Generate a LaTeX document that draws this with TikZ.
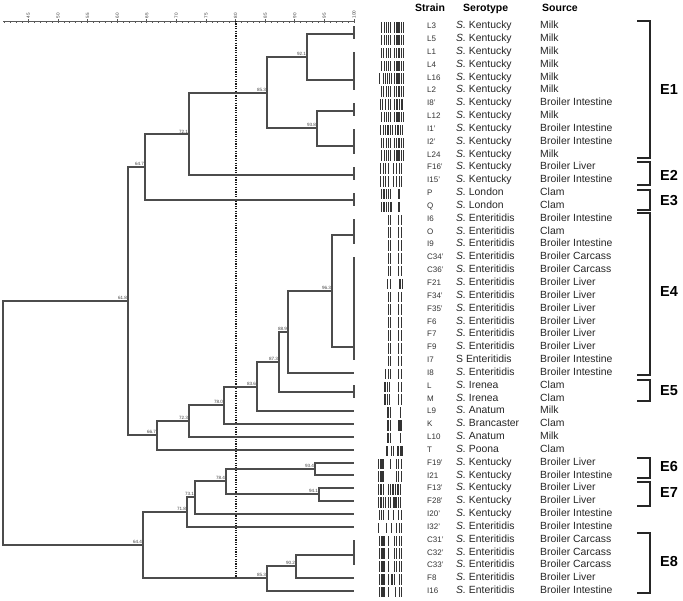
\documentclass[tikz,border=0pt]{standalone}
\usepackage{fontspec}
\setmainfont{Liberation Sans}
\newcommand{\sal}{\textit{S.}}
\newcommand{\lane}[2]{\edef\lanelist{#2}\foreach \bx/\bw in \lanelist {\fill[band] (378+\bx, 9.16+#1*12.84) rectangle ++(\bw,10.5);}}
\def\pkA{3/1.3,5.5/1.3,8/1.3,10/1,12/1.4,16/1.3,18.2/1.3,20.3/1.3,22.5/1.3,24.6/1.3}
\def\pkB{2.5/1.4,5/1.3,7.5/1.3,9.8/1.3,12/1.3,15.5/1.3,17.8/1.4,20.3/1.3,22.6/1.3,24.6/1.3}
\def\pEn{9.5/1.2,12/1.2,20/1.2,23/1.3}
\def\pEc{1/1.4,3.2/1.4,5.4/1.4,10/1.3,15.5/1.3,17.8/1.3,20.5/1.3,23/1.3}

\begin{document}
\begin{tikzpicture}[x=1pt,y=-1pt,
    branch/.style={draw=black!70, line width=1.7pt},
    axisln/.style={draw=black!65, line width=0.7pt},
    cutoff/.style={draw=black!90, line width=1.7pt, dash pattern=on 1.2pt off 1.2pt},
    band/.style={fill=black!80},
    sim/.style={font=\fontsize{4.6}{5}\selectfont, text=black!75, inner sep=0.8pt, anchor=south east},
    scl/.style={font=\fontsize{4.6}{5}\selectfont, text=black!75, rotate=90, anchor=west, inner sep=0.5pt},
    hdr/.style={font=\bfseries\fontsize{10.5}{12}\selectfont, anchor=base west, inner sep=0pt},
    strain/.style={font=\fontsize{8}{9}\selectfont, text=black!80, anchor=base west, inner sep=0pt},
    serot/.style={font=\fontsize{10.4}{12}\selectfont, text=black!85, anchor=base west, inner sep=0pt},
    src/.style={font=\fontsize{10.4}{12}\selectfont, text=black!85, anchor=base west, inner sep=0pt},
    brk/.style={draw=black!85, line width=1.6pt},
    grp/.style={font=\bfseries\fontsize{14.5}{16}\selectfont, anchor=west, inner sep=0pt}
]
    \useasboundingbox (0,0) rectangle (683,600);

    % similarity scale
    \draw[axisln] (3,21) -- (354,21);
    \foreach \s in {41,...,100}
        \draw[axisln] (\s*5.92-238,21) -- ++(0,2);
    \foreach \s in {45,50,...,100} {
        \draw[axisln] (\s*5.92-238,21) -- ++(0,-2);
        \node[scl] (t\s) at (\s*5.92-238,19) {\s};
    }
    \draw[cutoff] (236,21) -- (236,580);

    % leaves and groups of identical profiles
    \coordinate (g1) at (354,34);
    \coordinate (g2) at (354,80);
    \coordinate (g3) at (354,111);
    \coordinate (g4) at (354,146);
    \coordinate (g5) at (354,175);
    \coordinate (g6) at (354,200);
    \coordinate (g7) at (354,235);
    \coordinate (g8) at (354,347);
    \coordinate (lI8) at (354,373);
    \coordinate (g9) at (354,392);
    \coordinate (lL9) at (354,411);
    \coordinate (lK) at (354,424);
    \coordinate (lL10) at (354,437);
    \coordinate (lT) at (354,450);
    \coordinate (lF19) at (354,463);
    \coordinate (lI21) at (354,475);
    \coordinate (lF13) at (354,488);
    \coordinate (lF28) at (354,501);
    \coordinate (lI20) at (354,514);
    \coordinate (lI32) at (354,527);
    \coordinate (g10) at (354,555);
    \coordinate (lF8) at (354,578);
    \coordinate (lI16) at (354,591);
    \foreach \ya/\yb in {26/39, 52/90, 103/116, 129/154, 167/180, 193/206,
                         219/244, 257/360, 385/398, 540/565}
        \draw[branch] (354,\ya) -- (354,\yb);

    % internal nodes
    \coordinate (nA) at (307,57);
    \coordinate (nC) at (317,128);
    \coordinate (nB) at (267,93);
    \coordinate (nD) at (189,134);
    \coordinate (nE) at (145,167);
    \coordinate (nH) at (332,291);
    \coordinate (nI) at (288,332);
    \coordinate (nJ) at (279,362);
    \coordinate (nK) at (257,387);
    \coordinate (nL) at (224,405);
    \coordinate (nM) at (189,421);
    \coordinate (nN) at (157,435);
    \coordinate (nF) at (128,301);
    \coordinate (nQ) at (315,469);
    \coordinate (nR) at (319,494);
    \coordinate (nP) at (226,481);
    \coordinate (nO) at (195,497);
    \coordinate (nS) at (187,512);
    \coordinate (nT) at (296,566);
    \coordinate (nU) at (267,578);
    \coordinate (nV) at (143,545);
    \coordinate (root) at (3,423);

    \foreach \p/\c in {nA/g1, nA/g2, nC/g3, nC/g4, nB/nA, nB/nC, nD/nB, nD/g5, nE/nD, nE/g6,
                       nH/g7, nH/g8, nI/nH, nI/lI8, nJ/nI, nJ/g9, nK/nJ, nK/lL9, nL/nK, nL/lK,
                       nM/nL, nM/lL10, nN/nM, nN/lT, nF/nE, nF/nN,
                       nQ/lF19, nQ/lI21, nR/lF13, nR/lF28, nP/nQ, nP/nR, nO/nP, nO/lI20,
                       nS/nO, nS/lI32, nT/g10, nT/lF8, nU/nT, nU/lI16, nV/nS, nV/nU,
                       root/nF, root/nV}
        \draw[branch] (\p) |- (\c);

    \foreach \n/\v in {nA/92.1, nC/93.8, nB/85.3, nD/72.1, nE/64.7, nH/96.3, nI/88.9, nJ/87.3,
                       nK/83.6, nL/78.0, nM/72.3, nN/66.7, nF/61.8, nQ/93.4, nR/94.1, nP/78.4,
                       nO/73.1, nS/71.8, nT/90.2, nU/85.3, nV/64.4}
        \node[sim] (v\n) at (\n) {\v};

    % gel lanes
    \lane{1}{\pkA}
    \lane{2}{\pkA}
    \lane{3}{\pkB}
    \lane{4}{\pkA}
    \lane{5}{1/1.4,4.5/1.3,6.5/1,8.6/1.3,10.8/1.3,13/1,16/1.3,18.2/1.3,20.3/1.3,22.5/1.3,24.6/1.3}
    \lane{6}{\pkB}
    \lane{7}{1.5/1.4,4/1.3,7/1.3,9.5/1.3,12/1.3,16/1.3,18.2/1.3,20.5/1.8,23/1.8}
    \lane{8}{\pkA}
    \lane{9}{1.5/1.4,4.5/1.3,7/1.3,9.3/1.3,11.5/1.3,14/1.3,17/1.3,19.3/1.3,21.6/1.3,24/1.3}
    \lane{10}{\pkB}
    \lane{11}{\pkA}
    \lane{12}{2/1.4,4.5/1.4,7/1.4,9.5/1.4,15/1.4,17.5/1.4,20.5/1.4,22.5/1.6}
    \lane{13}{2/1.4,4.5/1.4,7/1.4,9.5/1.4,15/1.4,17.5/1.4,20.5/1.4,22.5/1.6}
    \lane{14}{3/1.4,5.3/1.4,7.6/1.4,10/1.4,12/1.2,20/1.5}
    \lane{15}{3/1.3,5.3/1.3,7.5/1.3,9.8/1.3,12.3/1.4,19.8/2}
    \foreach \r in {16,...,20,22,23,...,27} {
        \lane{\r}{\pEn}
    }
    \lane{21}{8.8/1.3,11.5/1.2,21/1.6,23.5/1.1}
    \lane{28}{7/1.3,9.5/1.2,12/1.2,20/1.2,23/1.3}
    \lane{29}{6/1.5,8.5/1.5,11/1.2,20/1.2,23/1.3}
    \lane{30}{6/1.5,8.5/1.5,11/1.2,20/1.2,23/1.3}
    \lane{31}{9.3/1.2,11.5/1.2,21.5/1.3}
    \lane{32}{9.3/1.2,11.5/1.2,19.5/4}
    \lane{33}{9.3/1.2,11.5/1.2,21.5/1.3}
    \lane{34}{7.5/2,13/1.2,15/1.2,19/1.6,21.5/3}
    \lane{35}{0/1.4,2.2/1.4,4.4/1.4,11.5/1.2,17.5/1.4,20/1.4,22.5/1.4}
    \lane{36}{0/1.4,2.2/1.4,4.4/1.4,17.5/1.4,20/1.4,22.5/1.4}
    \lane{37}{0/1.3,2.3/1.3,4.6/1.3,9.5/1.3,12/1.3,14.3/1.3,17/1.3,19.3/1.3,21.6/1.3}
    \lane{38}{0/1.3,2.3/1.3,4.6/1.3,7/1.3,9.5/1.3,12/1.3,15/1.5,17.3/1.3,19.6/1.3,22/1.3}
    \lane{39}{1/1.3,3/1.3,5/1.3,10/1.3,15/1.3,20/1.3,22.5/1.3}
    \lane{40}{0/1.3,8/1.3,13/1.3,18/1.3,20.5/1.3,23/1.3}
    \lane{41}{\pEc}
    \lane{42}{\pEc}
    \lane{43}{\pEc}
    \lane{44}{1/1.4,3.2/1.4,5.4/1.4,10/1.3,13/1.6,16/1.3,20.5/1.3,23/1.3}
    \lane{45}{1/1.4,3.2/1.4,5.4/1.4,10/1.3,17/1.3,20.5/1.3,23/1.3}

    % table
    \node[hdr] (hStrain) at (415,11) {Strain};
    \node[hdr] (hSerotype) at (463,11) {Serotype};
    \node[hdr] (hSource) at (542,11) {Source};
    \foreach \st/\se/\so [count=\r] in {
        L3/\sal\ Kentucky/Milk, L5/\sal\ Kentucky/Milk, L1/\sal\ Kentucky/Milk,
        L4/\sal\ Kentucky/Milk, L16/\sal\ Kentucky/Milk, L2/\sal\ Kentucky/Milk,
        I8'/\sal\ Kentucky/Broiler Intestine, L12/\sal\ Kentucky/Milk,
        I1'/\sal\ Kentucky/Broiler Intestine, I2'/\sal\ Kentucky/Broiler Intestine,
        L24/\sal\ Kentucky/Milk, F16'/\sal\ Kentucky/Broiler Liver,
        I15'/\sal\ Kentucky/Broiler Intestine, P/\sal\ London/Clam, Q/\sal\ London/Clam,
        I6/\sal\ Enteritidis/Broiler Intestine, O/\sal\ Enteritidis/Clam,
        I9/\sal\ Enteritidis/Broiler Intestine, C34'/\sal\ Enteritidis/Broiler Carcass,
        C36'/\sal\ Enteritidis/Broiler Carcass, F21/\sal\ Enteritidis/Broiler Liver,
        F34'/\sal\ Enteritidis/Broiler Liver, F35'/\sal\ Enteritidis/Broiler Liver,
        F6/\sal\ Enteritidis/Broiler Liver, F7/\sal\ Enteritidis/Broiler Liver,
        F9/\sal\ Enteritidis/Broiler Liver, I7/S Enteritidis/Broiler Intestine,
        I8/\sal\ Enteritidis/Broiler Intestine, L/\sal\ Irenea/Clam, M/\sal\ Irenea/Clam,
        L9/\sal\ Anatum/Milk, K/\sal\ Brancaster/Clam, L10/\sal\ Anatum/Milk,
        T/\sal\ Poona/Clam, F19'/\sal\ Kentucky/Broiler Liver,
        I21/\sal\ Kentucky/Broiler Intestine, F13'/\sal\ Kentucky/Broiler Liver,
        F28'/\sal\ Kentucky/Broiler Liver, I20'/\sal\ Kentucky/Broiler Intestine,
        I32'/\sal\ Enteritidis/Broiler Intestine, C31'/\sal\ Enteritidis/Broiler Carcass,
        C32'/\sal\ Enteritidis/Broiler Carcass, C33'/\sal\ Enteritidis/Broiler Carcass,
        F8/\sal\ Enteritidis/Broiler Liver, I16/\sal\ Enteritidis/Broiler Intestine} {
        \node[strain] (st\r) at (427,15.86+\r*12.84) {\st};
        \node[serot] (se\r) at (456,15.86+\r*12.84) {\se};
        \node[src] (so\r) at (540,15.86+\r*12.84) {\so};
    }

    % clusters
    \foreach \ya/\yb/\ym/\e in {21/158/90/E1, 162/185/175/E2, 190/210/201/E3, 213/375/292/E4,
                                380/401/391/E5, 458/478/467/E6, 482/506/493/E7, 533/593/562/E8} {
        \draw[brk] (637,\ya) -- (650,\ya) -- (650,\yb) -- (637,\yb);
        \node[grp] (c\e) at (660,\ym) {\e};
    }
\end{tikzpicture}
\end{document}
